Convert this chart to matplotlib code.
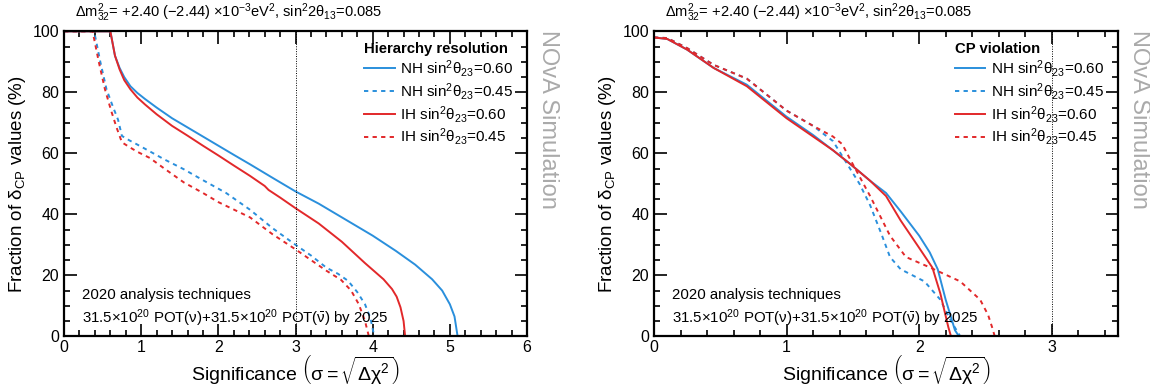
import matplotlib
matplotlib.use("Agg")
import matplotlib.pyplot as plt
from matplotlib.ticker import MultipleLocator

plt.rcParams['font.family'] = ['Liberation Sans', 'DejaVu Sans']
plt.rcParams['mathtext.fontset'] = 'custom'
plt.rcParams['mathtext.rm'] = 'Liberation Sans'
plt.rcParams['mathtext.it'] = 'Liberation Sans:italic'
plt.rcParams['mathtext.sf'] = 'Liberation Sans'

BLUE = '#2a8fdc'
RED = '#e2282a'

# ---------------- Hierarchy resolution (left) ----------------
mh_nh60_x = [0, 0.60, 0.66, 0.72, 0.78, 0.86, 0.95, 1.05, 1.2, 1.4, 1.6, 1.8, 2.0, 2.2, 2.41, 2.7, 3.0, 3.3, 3.6, 4.0, 4.3, 4.55, 4.77, 4.9, 5.0, 5.06, 5.10, 6]
mh_nh60_y = [100, 100, 92, 88, 85, 82, 79.8, 77.8, 75, 71.5, 68.5, 65.5, 62.5, 59.5, 56.4, 52, 47.5, 43.5, 39, 33, 28, 23.5, 18.7, 15, 10.5, 6.5, 0, 0]

mh_ih60_x = [0, 0.60, 0.66, 0.72, 0.78, 0.86, 0.95, 1.05, 1.2, 1.4, 1.6, 1.8, 2.0, 2.2, 2.41, 2.6, 2.65, 2.8, 3.0, 3.3, 3.6, 3.9, 4.14, 4.25, 4.31, 4.36, 4.40, 4.42, 6]
mh_ih60_y = [100, 100, 92, 87.5, 84, 81, 78.3, 76, 72.8, 69, 65.8, 62.5, 59.3, 56, 52.6, 49.3, 48, 45.5, 42, 37, 31, 24, 18.7, 15.5, 13, 9.5, 5, 0, 0]

mh_nh45_x = [0, 0.39, 0.47, 0.55, 0.63, 0.70, 0.75, 0.85, 0.94, 1.1, 1.3, 1.55, 1.8, 2.1, 2.41, 2.7, 3.0, 3.2, 3.4, 3.55, 3.68, 3.8, 3.9, 3.97, 4.02, 6]
mh_nh45_y = [100, 100, 90, 81, 75.5, 71, 65.7, 64.2, 63, 60.8, 58, 54.8, 51.2, 47, 41.5, 35.5, 30, 26.5, 22.5, 20.5, 18.2, 14.5, 10.5, 6, 0, 0]

mh_ih45_x = [0, 0.37, 0.45, 0.53, 0.61, 0.68, 0.75, 0.85, 0.95, 1.11, 1.3, 1.55, 1.8, 2.0, 2.41, 2.7, 3.0, 3.2, 3.4, 3.59, 3.72, 3.82, 3.9, 3.95, 6]
mh_ih45_y = [100, 100, 90, 81, 74, 68.5, 63.6, 62, 60.5, 58.5, 55, 50.5, 47, 44, 39, 33.5, 28.5, 25, 21.5, 18.5, 15, 10.5, 5, 0, 0]

# ---------------- CP violation (right) ----------------
cp_nh60_x = [0, 0.1, 0.25, 0.45, 0.7, 1.0, 1.2, 1.35, 1.48, 1.63, 1.75, 1.86, 2.0, 2.08, 2.14, 2.2, 2.27, 2.30, 3.5]
cp_nh60_y = [98, 97.5, 94, 88, 82.5, 72, 66, 61, 56.5, 51, 47, 41, 33, 27.5, 22, 12, 2, 0, 0]

cp_ih60_x = [0, 0.1, 0.25, 0.45, 0.7, 1.0, 1.2, 1.35, 1.48, 1.63, 1.75, 1.86, 2.0, 2.1, 2.16, 2.22, 2.24, 3.5]
cp_ih60_y = [98, 97.5, 94, 88, 82, 71.5, 65.5, 61, 56.5, 51, 46, 38, 29, 22.5, 14, 3, 0, 0]

cp_nh45_x = [0, 0.1, 0.25, 0.45, 0.7, 1.0, 1.2, 1.35, 1.45, 1.55, 1.63, 1.72, 1.78, 1.86, 1.95, 2.04, 2.16, 2.24, 2.31, 3.5]
cp_nh45_y = [98, 97.8, 94.5, 89, 84.5, 74, 69, 64, 57, 50, 43, 33, 26, 22, 20, 18, 12, 5, 0, 0]

cp_ih45_x = [0, 0.1, 0.25, 0.45, 0.7, 1.0, 1.2, 1.35, 1.42, 1.48, 1.63, 1.78, 1.9, 2.08, 2.31, 2.46, 2.52, 2.55, 2.57, 3.5]
cp_ih45_y = [98, 97.8, 94.5, 89, 84.5, 74, 69, 65.5, 63, 58, 46, 33, 26, 22.6, 18, 12, 7, 3, 0, 0]

legend_labels = [r"NH sin$^{2}$θ$_{23}$=0.60", r"NH sin$^{2}$θ$_{23}$=0.45",
                 r"IH sin$^{2}$θ$_{23}$=0.60", r"IH sin$^{2}$θ$_{23}$=0.45"]
top_text = r"Δm$^{2}_{32}$= +2.40 (−2.44) ×10$^{-3}$eV$^{2}$, sin$^{2}$2θ$_{13}$=0.085"
dash = (0, (2.2, 2.2))

fig = plt.figure(figsize=(11.5, 3.87), dpi=100)
axL = fig.add_axes([0.0557, 0.131, 0.4026, 0.788])
axR = fig.add_axes([0.5687, 0.131, 0.4035, 0.788])

panels = [
    (axL, 6, "Hierarchy resolution", 0.0652,
     [(mh_nh60_x, mh_nh60_y, BLUE, '-'), (mh_nh45_x, mh_nh45_y, BLUE, dash),
      (mh_ih60_x, mh_ih60_y, RED, '-'), (mh_ih45_x, mh_ih45_y, RED, dash)]),
    (axR, 3.5, "CP violation", 0.578,
     [(cp_nh60_x, cp_nh60_y, BLUE, '-'), (cp_nh45_x, cp_nh45_y, BLUE, dash),
      (cp_ih60_x, cp_ih60_y, RED, '-'), (cp_ih45_x, cp_ih45_y, RED, dash)]),
]

for ax, xmax, title, tx, series in panels:
    handles = []
    for (xs, ys, c, ls), lab in zip(series, legend_labels):
        h, = ax.plot(xs, ys, color=c, ls=ls, lw=1.4, label=lab)
        handles.append(h)
    ax.axvline(3, color='black', ls=(0, (1, 1.5)), lw=0.7)
    ax.set_xlim(0, xmax)
    ax.set_ylim(0, 100)
    ax.xaxis.set_major_locator(MultipleLocator(1))
    ax.xaxis.set_minor_locator(MultipleLocator(0.2))
    ax.yaxis.set_major_locator(MultipleLocator(20))
    ax.yaxis.set_minor_locator(MultipleLocator(5))
    ax.tick_params(which='both', direction='in', top=True, right=True, labelsize=11.5, width=1.2)
    ax.tick_params(which='major', length=9)
    ax.tick_params(which='minor', length=4.5)
    ax.tick_params(axis='x', pad=3)
    for s in ax.spines.values():
        s.set_linewidth(1.6)
    ax.set_xlabel(r"Significance $\left(\mathrm{σ=}\sqrt{\mathrm{Δχ}^{2}}\right)$", fontsize=14, labelpad=-1)
    ax.set_ylabel(r"Fraction of δ$_{\rm CP}$ values (%)", fontsize=13.5, labelpad=3)
    leg = ax.legend(handles=handles, loc='upper left', bbox_to_anchor=(0.625, 1.0),
                    frameon=False, fontsize=11, title=title, alignment='left',
                    handlelength=2.0, handletextpad=0.35, labelspacing=0.12, borderpad=0.2)
    leg.get_title().set_fontweight('bold')
    leg.get_title().set_fontsize(10.7)
    ax.text(0.038, 0.136, "2020 analysis techniques", transform=ax.transAxes,
            fontsize=10.8, va='center', ha='left')
    ax.text(0.038, 0.058, r"31.5×10$^{20}$ POT(ν)+31.5×10$^{20}$ POT($\bar{\mathrm{ν}}$) by 2025",
            transform=ax.transAxes, fontsize=10.8, va='center', ha='left')
    ax.text(1.045, 1.005, "NOvA Simulation", transform=ax.transAxes, rotation=-90,
            fontsize=17, color='#aaaaaa', va='top', ha='center')
    fig.text(tx, 0.968, top_text, fontsize=10.5, ha='left', va='center')

fig.savefig("out.png", dpi=100)
